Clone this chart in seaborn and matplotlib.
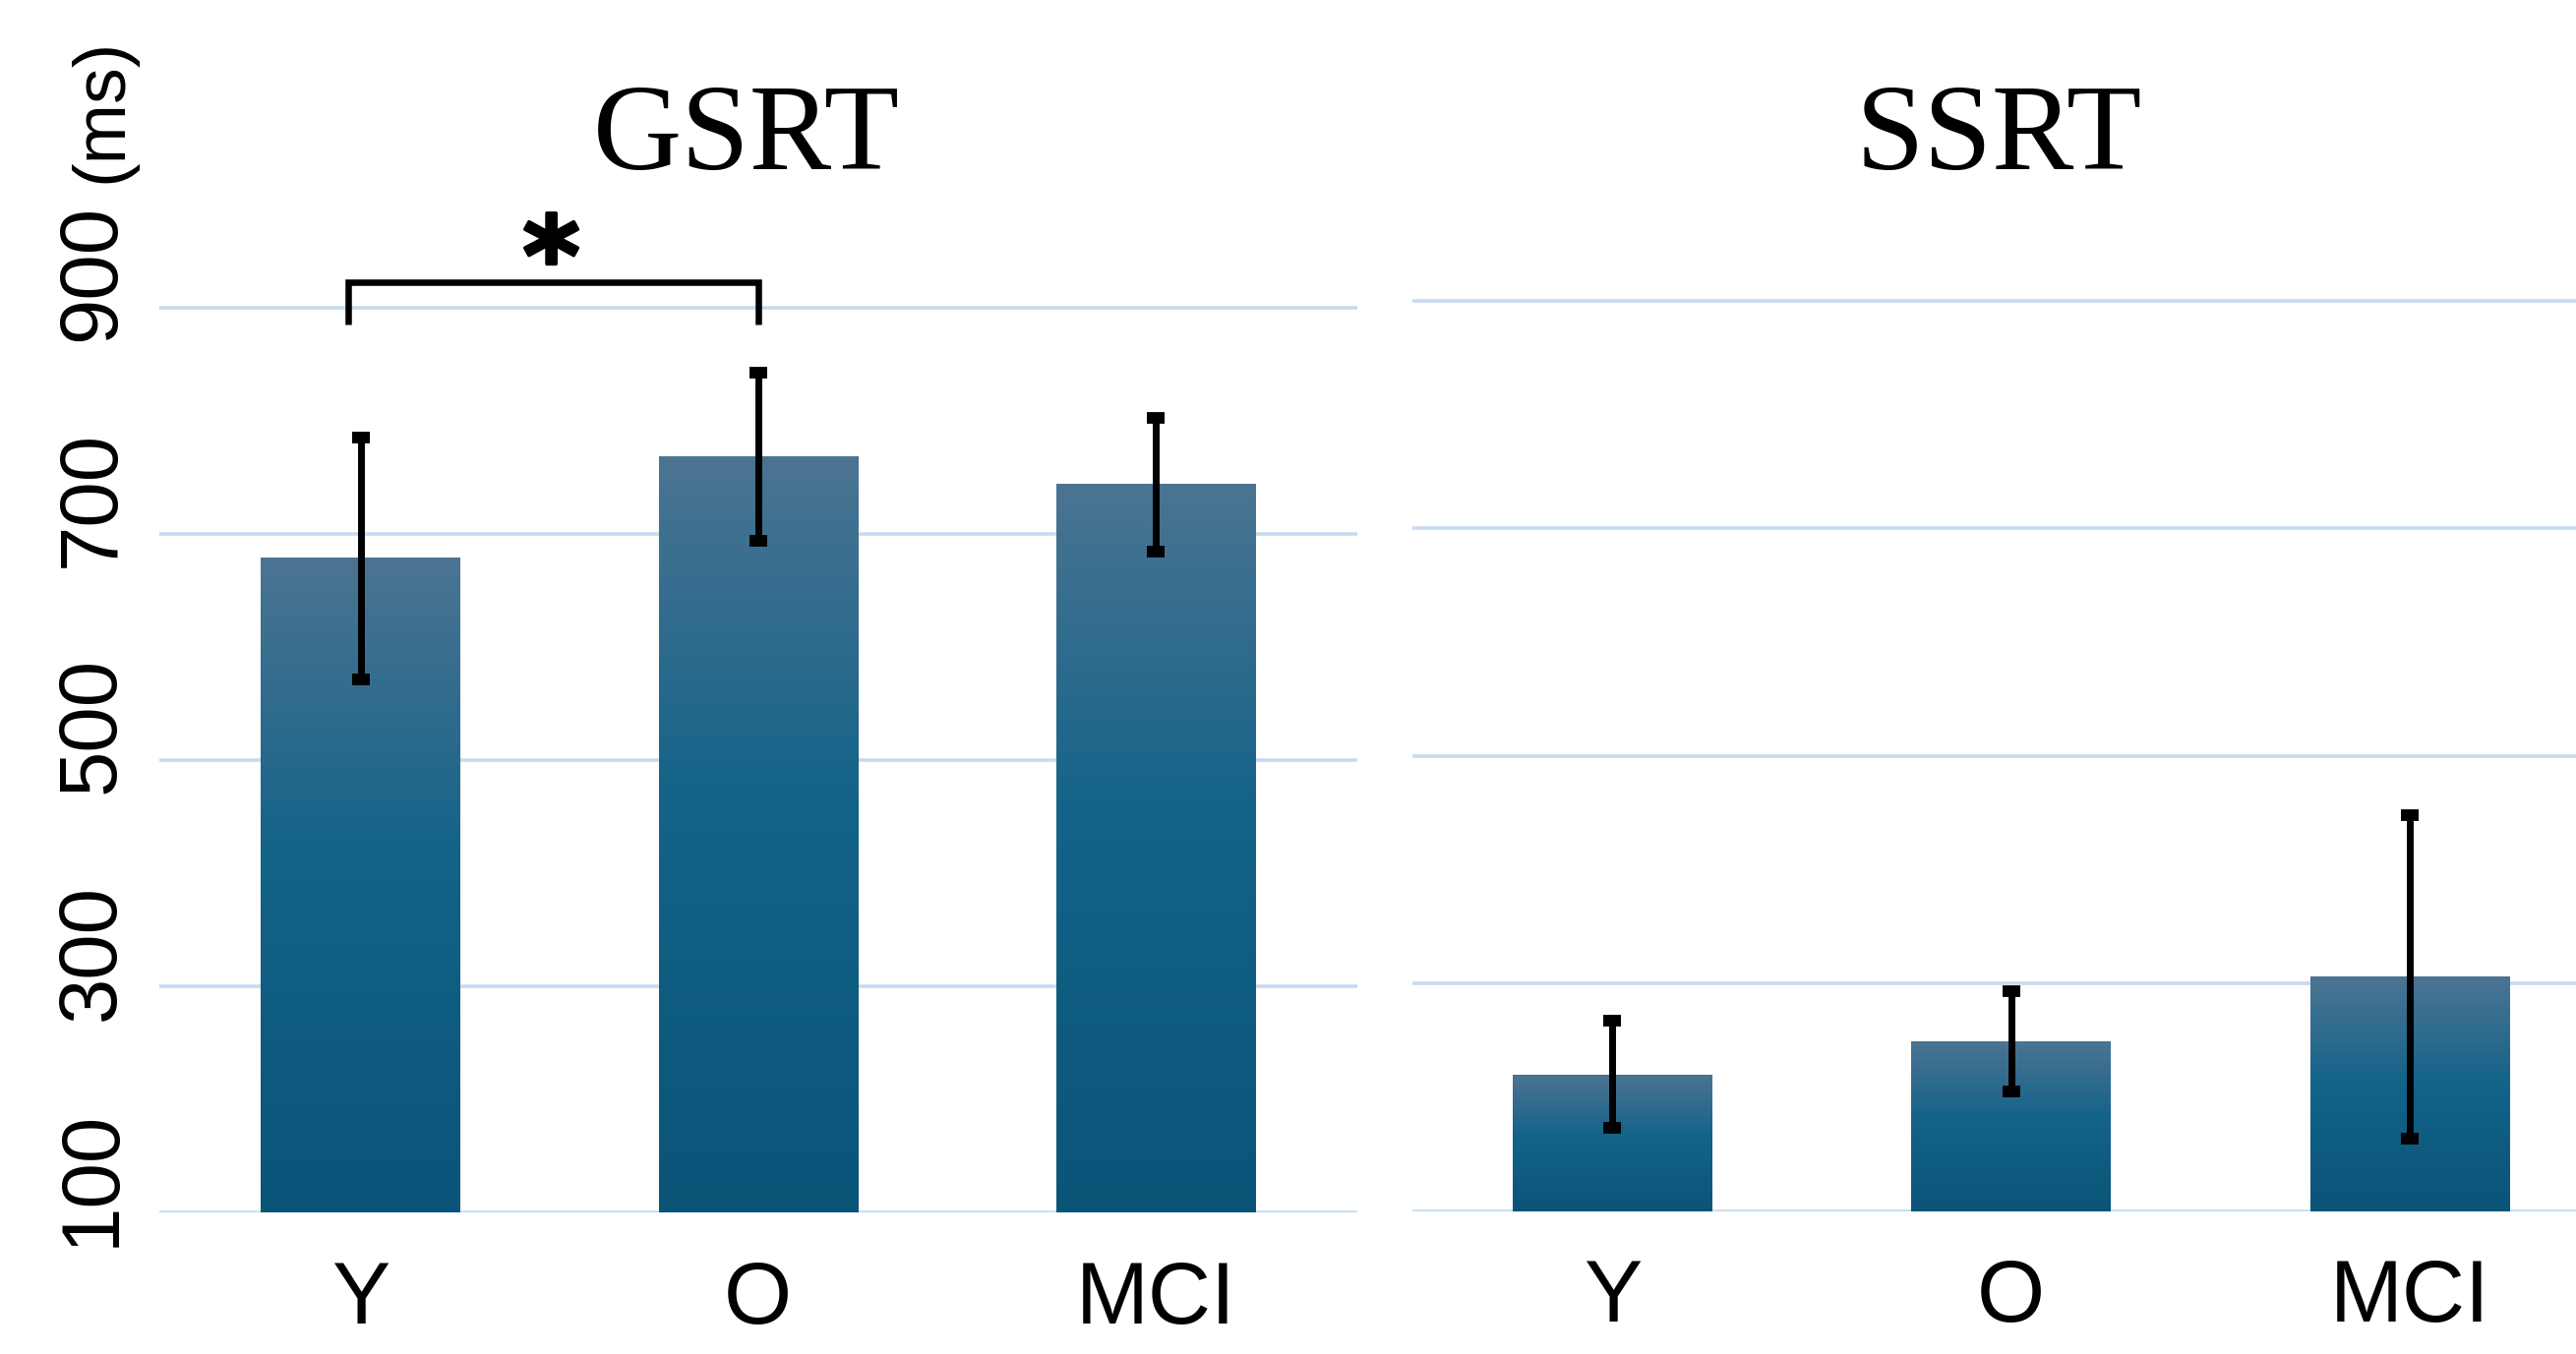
import numpy as np
import pandas as pd
import matplotlib
matplotlib.use("Agg")
import matplotlib.pyplot as plt
import matplotlib.transforms as mtransforms
import matplotlib.patheffects as pe
from matplotlib.colors import LinearSegmentedColormap
import seaborn as sns

# ---- data (ms) ----
groups = ["Y", "O", "MCI"]
gsrt_mean = [678, 768, 743]
gsrt_err = [107, 74, 59]
ssrt_mean = [220, 249, 306]
ssrt_err = [47, 44, 142]
y_ticks = [100, 300, 500, 700, 900]

sns.set_theme(style="white")
plt.rcParams["font.family"] = ["Liberation Sans", "DejaVu Sans"]
plt.rcParams["text.color"] = "black"
plt.rcParams["xtick.color"] = "black"
plt.rcParams["ytick.color"] = "black"

GRID = "#c6dbf0"
bar_cmap = LinearSegmentedColormap.from_list(
    "bar_grad", [(0.0, "#4b7492"), (0.45, "#146389"), (1.0, "#0a5478")])

fig = plt.figure(figsize=(26.19, 13.77), dpi=100)
ax_g = fig.add_axes([0.06186, 0.10436, 0.4649, 0.75228])
ax_s = fig.add_axes([0.54846, 0.10559, 0.4645, 0.75635])


def draw_panel(ax, means, errs, xlim):
    df = pd.DataFrame({"group": groups, "rt": means})
    sns.barplot(data=df, x="group", y="rt", ax=ax, width=0.5,
                color="#0e5a7e", saturation=1, zorder=2)
    ax.set_xlim(*xlim)
    ax.set_ylim(100, 1000)
    y0 = ax.get_ylim()[0]
    xs = []
    for p in ax.patches:
        x0, w, top = p.get_x(), p.get_width(), p.get_y() + p.get_height()
        xs.append(x0 + w / 2)
        grad = np.linspace(0, 1, 256).reshape(-1, 1)
        ax.imshow(grad, extent=(x0, x0 + w, max(p.get_y(), y0), top),
                  aspect="auto", cmap=bar_cmap, origin="upper",
                  interpolation="bilinear", zorder=2.5)
        p.set_visible(False)
    ax.errorbar(xs, means, yerr=errs, fmt="none", ecolor="black",
                elinewidth=5, capsize=6.5, capthick=8.5, zorder=4)
    ax.set_xlim(*xlim)
    ax.set_ylim(100, 1000)
    ax.set_yticks(y_ticks)
    ax.grid(axis="y", color=GRID, linewidth=2.6, zorder=0)
    ax.set_axisbelow(True)
    for s in ax.spines.values():
        s.set_visible(False)
    ax.set_xlabel("")
    ax.set_ylabel("")
    ax.tick_params(axis="x", length=0, pad=34, labelsize=64,
                   labelcolor="black")
    ax.tick_params(axis="y", length=0)
    return xs


xs_g = draw_panel(ax_g, gsrt_mean, gsrt_err, (-0.506, 2.506))
xs_s = draw_panel(ax_s, ssrt_mean, ssrt_err, (-0.5, 2.5))

# y tick labels, rotated, on the left panel only
ax_g.tick_params(axis="y", pad=21, labelsize=60, labelcolor="black")
shift = mtransforms.ScaledTranslation(0, 35 / 100, fig.dpi_scale_trans)
for lbl in ax_g.get_yticklabels():
    lbl.set_rotation(90)
    lbl.set_va("center")
    lbl.set_transform(lbl.get_transform() + shift)
ax_s.set_yticklabels([])

fig.text(104 / 2619, 1 - 112 / 1377, "(ms)", rotation=90, ha="center",
         va="center", fontsize=53, color="black")

# panel titles
for ax, name in [(ax_g, "GSRT"), (ax_s, "SSRT")]:
    tr = mtransforms.blended_transform_factory(ax.transData, fig.transFigure)
    ax.text(0.97, 0.8753, name, transform=tr, ha="center", va="baseline",
            fontsize=90, family=["Liberation Serif", "DejaVu Serif"],
            color="black")

# significance bracket between Y and O (GSRT)
bx0, bx1 = xs_g[0] - 0.03, xs_g[1]
ax_g.plot([bx0, bx0, bx1, bx1], [885, 922, 922, 885], color="black",
          linewidth=4.7, solid_capstyle="butt", solid_joinstyle="miter",
          clip_on=False, zorder=5)
ax_g.text((bx0 + bx1) / 2 - 0.005, 938, "*", ha="center", va="center",
          fontsize=80, fontweight="bold", family="DejaVu Sans",
          color="black", clip_on=False, zorder=5,
          path_effects=[pe.withStroke(linewidth=2.5, foreground="black")])

fig.savefig("out.png", dpi=100, facecolor="white")
